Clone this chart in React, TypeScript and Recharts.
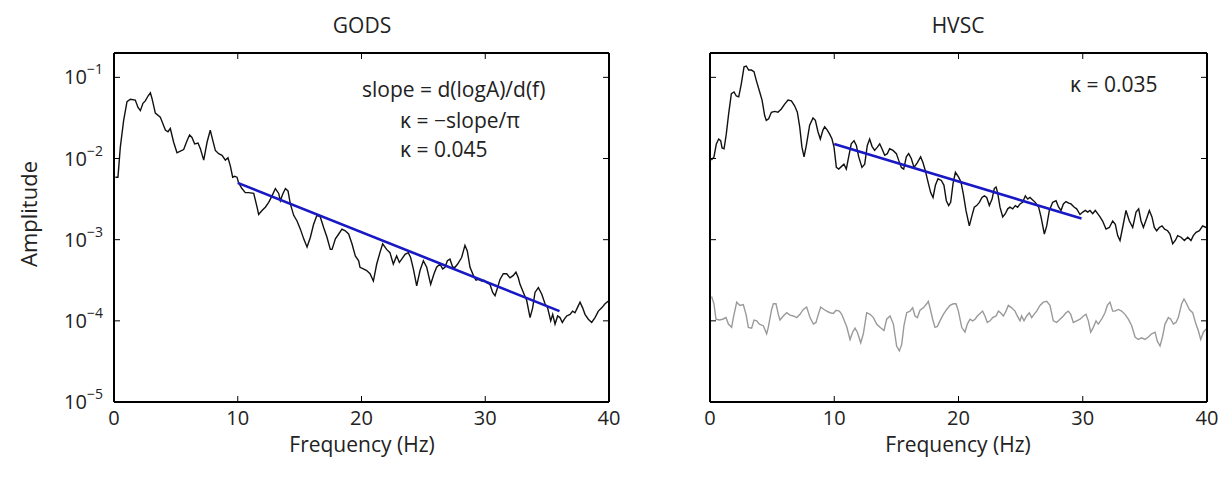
import React from 'react';
import { LineChart, Line, XAxis, YAxis } from 'recharts';

// [frequency Hz, log10 amplitude]
const GODS_SIGNAL: [number, number][] = [
  [0.11, -2.23], [0.32, -2.23], [0.51, -1.86], [0.78, -1.53], [1.05, -1.3], [1.32, -1.27],
  [1.72, -1.28], [1.94, -1.37], [2.13, -1.41], [2.34, -1.32], [2.53, -1.29], [2.75, -1.23],
  [2.94, -1.19], [3.07, -1.26], [3.34, -1.44], [3.74, -1.49], [4.15, -1.65], [4.36, -1.67],
  [4.55, -1.63], [4.82, -1.8], [5.09, -1.93], [5.36, -1.91], [5.63, -1.89], [5.9, -1.78],
  [6.11, -1.71], [6.3, -1.74], [6.52, -1.82], [6.79, -1.81], [6.98, -1.88], [7.25, -2.02],
  [7.52, -1.8], [7.78, -1.65], [7.92, -1.74], [8.19, -1.9], [8.46, -1.94], [8.73, -1.96],
  [9.0, -2.02], [9.21, -1.99], [9.4, -2.09], [9.59, -2.23], [9.75, -2.22], [9.94, -2.23],
  [10.07, -2.3], [10.34, -2.37], [10.61, -2.42], [10.88, -2.42], [11.29, -2.43], [11.56, -2.6],
  [11.69, -2.69], [11.96, -2.64], [12.23, -2.6], [12.5, -2.54], [12.77, -2.46], [13.04, -2.37],
  [13.31, -2.43], [13.44, -2.52], [13.63, -2.44], [13.85, -2.37], [14.06, -2.4], [14.25, -2.56],
  [14.52, -2.7], [14.79, -2.77], [15.06, -2.87], [15.33, -2.99], [15.6, -3.09], [15.87, -2.97],
  [16.13, -2.81], [16.4, -2.7], [16.67, -2.72], [16.94, -2.85], [17.21, -2.97], [17.48, -3.12],
  [17.62, -3.12], [17.89, -2.99], [18.16, -2.93], [18.42, -2.87], [18.69, -2.89], [18.96, -2.93],
  [19.23, -3.05], [19.5, -3.2], [19.77, -3.26], [19.88, -3.34], [20.15, -3.36], [20.42, -3.38],
  [20.69, -3.42], [20.96, -3.51], [21.23, -3.3], [21.49, -3.16], [21.71, -3.05], [22.03, -3.12],
  [22.3, -3.16], [22.57, -3.3], [22.84, -3.2], [23.06, -3.28], [23.25, -3.24], [23.52, -3.18],
  [23.78, -3.16], [23.97, -3.22], [24.19, -3.36], [24.46, -3.57], [24.73, -3.38], [25.0, -3.26],
  [25.27, -3.34], [25.59, -3.55], [25.86, -3.42], [26.07, -3.34], [26.34, -3.3], [26.56, -3.36],
  [26.75, -3.34], [26.94, -3.26], [27.15, -3.24], [27.37, -3.34], [27.56, -3.34], [27.77, -3.3],
  [28.09, -3.22], [28.36, -3.07], [28.55, -3.14], [28.77, -3.34], [29.04, -3.44], [29.25, -3.5],
  [29.44, -3.49], [29.71, -3.51], [29.9, -3.5], [30.11, -3.53], [30.38, -3.55], [30.6, -3.65],
  [30.79, -3.69], [31.0, -3.59], [31.19, -3.49], [31.46, -3.42], [31.73, -3.42], [32.0, -3.47],
  [32.27, -3.44], [32.48, -3.4], [32.67, -3.47], [32.81, -3.55], [33.08, -3.65], [33.35, -3.75],
  [33.62, -3.96], [33.83, -3.84], [34.02, -3.65], [34.29, -3.59], [34.56, -3.67], [34.83, -3.79],
  [35.04, -3.84], [35.29, -4.0], [35.45, -3.92], [35.64, -4.04], [35.85, -3.94], [36.04, -3.96],
  [36.23, -4.02], [36.39, -3.98], [36.58, -3.94], [36.85, -3.92], [37.06, -3.88], [37.25, -3.9],
  [37.44, -3.84], [37.66, -3.77], [37.87, -3.84], [38.06, -3.92], [38.33, -3.98], [38.6, -4.02],
  [38.87, -3.96], [39.14, -3.88], [39.41, -3.84], [39.68, -3.79], [40.0, -3.75],
];

const GODS_FIT: [number, number][] = [[10, -2.3], [36, -3.88]];

const HVSC_SIGNAL: [number, number][] = [
  [0.11, -2.02], [0.32, -1.98], [0.51, -1.82], [0.7, -1.76], [0.86, -1.78], [0.97, -1.87],
  [1.13, -1.88], [1.31, -1.7], [1.5, -1.45], [1.72, -1.2], [1.93, -1.18], [2.12, -1.23],
  [2.31, -1.24], [2.52, -1.08], [2.74, -0.87], [2.92, -0.86], [3.11, -0.91], [3.33, -0.91],
  [3.54, -0.93], [3.73, -1.04], [4.0, -1.18], [4.19, -1.28], [4.4, -1.47], [4.53, -1.53],
  [4.72, -1.51], [4.94, -1.43], [5.2, -1.42], [5.47, -1.43], [5.74, -1.39], [6.01, -1.33],
  [6.28, -1.28], [6.55, -1.29], [6.81, -1.35], [7.03, -1.43], [7.22, -1.61], [7.4, -1.86],
  [7.57, -1.98], [7.75, -1.84], [8.02, -1.59], [8.29, -1.5], [8.48, -1.53], [8.69, -1.67],
  [8.88, -1.76], [9.09, -1.65], [9.23, -1.61], [9.44, -1.65], [9.63, -1.7], [9.82, -1.76],
  [9.98, -1.86], [10.17, -2.11], [10.36, -2.13], [10.57, -2.1], [10.78, -2.07], [10.97, -2.13],
  [11.16, -1.98], [11.37, -1.82], [11.59, -1.78], [11.78, -1.84], [11.97, -1.98], [12.23, -2.11],
  [12.45, -2.07], [12.66, -1.84], [12.85, -1.76], [13.04, -1.85], [13.25, -1.9], [13.47, -1.86],
  [13.66, -1.82], [13.84, -1.88], [14.06, -1.96], [14.27, -1.94], [14.46, -1.88], [14.73, -1.9],
  [15.0, -1.94], [15.18, -2.02], [15.4, -2.11], [15.59, -2.13], [15.8, -1.98], [15.99, -1.94],
  [16.2, -2.0], [16.42, -2.11], [16.69, -2.05], [16.95, -1.98], [17.14, -2.05], [17.33, -2.15],
  [17.55, -2.29], [17.76, -2.42], [17.95, -2.48], [18.14, -2.33], [18.35, -2.25], [18.62, -2.27],
  [18.83, -2.33], [19.02, -2.52], [19.21, -2.58], [19.37, -2.54], [19.56, -2.31], [19.75, -2.17],
  [20.01, -2.23], [20.2, -2.29], [20.39, -2.44], [20.6, -2.64], [20.87, -2.83], [21.09, -2.7],
  [21.27, -2.6], [21.46, -2.58], [21.68, -2.54], [21.89, -2.48], [22.08, -2.46], [22.27, -2.48],
  [22.48, -2.58], [22.7, -2.5], [22.88, -2.37], [23.02, -2.35], [23.15, -2.42], [23.34, -2.6],
  [23.56, -2.72], [23.77, -2.68], [23.96, -2.62], [24.14, -2.6], [24.36, -2.62], [24.57, -2.58],
  [24.76, -2.6], [24.95, -2.56], [25.16, -2.54], [25.38, -2.46], [25.57, -2.5], [25.75, -2.48],
  [25.97, -2.51], [26.18, -2.54], [26.45, -2.6], [26.64, -2.72], [26.91, -2.93], [27.1, -2.83],
  [27.31, -2.64], [27.58, -2.54], [27.85, -2.52], [28.06, -2.6], [28.25, -2.64], [28.44, -2.56],
  [28.65, -2.53], [28.87, -2.55], [29.05, -2.56], [29.32, -2.6], [29.51, -2.62], [29.78, -2.69],
  [30.0, -2.66], [30.21, -2.64], [30.4, -2.66], [30.58, -2.64], [30.8, -2.68], [31.01, -2.64],
  [31.2, -2.68], [31.39, -2.72], [31.6, -2.77], [31.87, -2.87], [32.14, -2.85], [32.41, -2.77],
  [32.62, -2.81], [32.81, -2.95], [33.0, -3.01], [33.21, -2.85], [33.48, -2.64], [33.75, -2.77],
  [34.02, -2.85], [34.29, -2.66], [34.5, -2.62], [34.69, -2.77], [34.88, -2.85], [35.14, -2.74],
  [35.36, -2.64], [35.57, -2.72], [35.76, -2.85], [35.95, -2.89], [36.16, -2.85], [36.38, -2.83],
  [36.59, -2.87], [36.83, -2.89], [37.02, -2.93], [37.24, -3.05], [37.45, -3.01], [37.64, -2.95],
  [37.91, -2.97], [38.18, -3.01], [38.45, -2.97], [38.71, -3.01], [38.9, -2.95], [39.12, -2.91],
  [39.39, -2.89], [39.65, -2.83], [39.92, -2.85],
];

const HVSC_NOISE: [number, number][] = [
  [0.13, -3.7], [0.32, -3.79], [0.48, -3.98], [0.75, -3.99], [1.02, -3.98], [1.29, -3.96],
  [1.48, -4.04], [1.74, -4.08], [1.88, -3.96], [2.15, -3.77], [2.41, -3.81], [2.68, -3.8],
  [2.9, -3.92], [3.09, -4.08], [3.35, -4.09], [3.54, -3.99], [3.76, -4.0], [3.97, -4.04],
  [4.29, -4.06], [4.56, -4.16], [4.69, -4.08], [4.96, -3.86], [5.1, -3.79], [5.31, -3.79],
  [5.5, -3.92], [5.63, -3.99], [5.9, -3.94], [6.17, -3.9], [6.44, -3.93], [6.71, -3.94],
  [6.98, -3.96], [7.24, -3.92], [7.51, -3.86], [7.78, -3.83], [8.05, -3.96], [8.32, -4.04],
  [8.53, -4.02], [8.72, -3.92], [8.91, -3.83], [9.18, -3.86], [9.39, -3.88], [9.66, -3.9],
  [9.93, -3.91], [10.14, -3.87], [10.41, -3.88], [10.6, -3.92], [10.81, -4.0], [11.0, -4.07],
  [11.27, -4.23], [11.48, -4.14], [11.67, -4.09], [11.86, -4.14], [12.13, -4.27], [12.34, -4.16],
  [12.61, -3.9], [12.88, -3.92], [13.15, -3.96], [13.41, -4.04], [13.68, -4.08], [14.0, -4.12],
  [14.22, -3.98], [14.49, -3.94], [14.76, -4.04], [15.02, -4.31], [15.24, -4.37], [15.43, -4.29],
  [15.61, -4.06], [15.83, -3.9], [16.1, -3.88], [16.31, -3.84], [16.5, -3.94], [16.69, -3.96],
  [16.9, -3.87], [17.17, -3.84], [17.44, -3.79], [17.57, -3.76], [17.71, -3.84], [17.92, -3.98],
  [18.11, -4.08], [18.3, -4.07], [18.51, -4.0], [18.78, -3.92], [19.05, -3.86], [19.32, -3.81],
  [19.58, -3.79], [19.8, -3.79], [19.99, -3.88], [20.26, -4.08], [20.52, -4.14], [20.71, -4.04],
  [20.93, -3.98], [21.14, -4.0], [21.33, -3.98], [21.52, -3.94], [21.73, -3.91], [21.94, -3.88],
  [22.13, -3.94], [22.32, -4.02], [22.54, -4.0], [22.75, -3.96], [23.02, -3.94], [23.21, -3.88],
  [23.39, -3.9], [23.61, -3.94], [23.82, -3.88], [24.01, -3.81], [24.28, -3.84], [24.55, -3.88],
  [24.73, -3.94], [24.95, -4.0], [25.08, -3.94], [25.27, -4.0], [25.49, -3.94], [25.7, -3.9],
  [25.89, -3.96], [26.08, -3.92], [26.29, -3.88], [26.56, -3.81], [26.83, -3.77], [27.1, -3.76],
  [27.36, -3.81], [27.63, -4.0], [27.9, -4.02], [28.17, -3.98], [28.44, -3.94], [28.65, -3.9],
  [28.84, -3.88], [29.03, -3.92], [29.24, -4.02], [29.51, -4.0], [29.78, -3.98], [30.05, -3.94],
  [30.26, -3.92], [30.45, -4.0], [30.64, -4.14], [30.85, -4.08], [31.07, -4.0], [31.25, -4.04],
  [31.52, -3.98], [31.79, -3.9], [31.98, -3.81], [32.19, -3.77], [32.41, -3.88], [32.6, -3.88],
  [32.86, -3.86], [33.13, -3.88], [33.4, -3.92], [33.67, -3.98], [33.94, -4.06], [34.21, -4.2],
  [34.47, -4.23], [34.74, -4.21], [35.01, -4.23], [35.28, -4.2], [35.55, -4.16], [35.82, -4.14],
  [36.0, -4.25], [36.22, -4.31], [36.43, -4.19], [36.62, -4.04], [36.89, -3.96], [37.08, -3.98],
  [37.29, -4.04], [37.5, -4.02], [37.69, -3.96], [37.96, -3.79], [38.15, -3.73], [38.36, -3.79],
  [38.58, -3.86], [38.85, -3.9], [39.11, -4.04], [39.3, -4.12], [39.49, -4.23], [39.71, -4.14],
  [39.92, -4.1],
];

const HVSC_FIT: [number, number][] = [[10, -1.82], [29.9, -2.74]];

const X_TICKS = [0, 10, 20, 30, 40];
const Y_TICKS = [-5, -4, -3, -2, -1];
const Y_DOMAIN: [number, number] = [-5, -0.7];

const FONT = "'Open Sans', 'Noto Sans', sans-serif";
const TXT = '#222';

const toRows = (pts: [number, number][]) => pts.map(([f, a]) => ({ f, a }));

const BottomTick = (props: any) => {
  const { x, y, payload } = props;
  return (
    <g>
      <line x1={x} y1={y} x2={x} y2={y - 6} stroke="#000" strokeWidth={1} />
      <text x={x} y={y + 23} textAnchor="middle" fontSize={20} fill={TXT} fontFamily={FONT}>
        {payload.value}
      </text>
    </g>
  );
};

const TopTick = (props: any) => {
  const { x, y } = props;
  return <line x1={x} y1={y} x2={x} y2={y + 6} stroke="#000" strokeWidth={1} />;
};

const makeLeftTick = (showLabel: boolean) => (props: any) => {
  const { x, y, payload } = props;
  return (
    <g>
      <line x1={x} y1={y} x2={x + 6} y2={y} stroke="#000" strokeWidth={1} />
      {showLabel && (
        <text x={x - 11} y={y + 7} textAnchor="end" fill={TXT} fontFamily={FONT}>
          <tspan fontSize={20}>10</tspan>
          <tspan fontSize={14} dy={-10}>{'\u2212' + Math.abs(payload.value)}</tspan>
        </text>
      )}
    </g>
  );
};

const RightTick = (props: any) => {
  const { x, y } = props;
  return <line x1={x} y1={y} x2={x - 6} y2={y} stroke="#000" strokeWidth={1} />;
};

const axisLine = { stroke: '#000', strokeWidth: 2 };

interface PanelProps {
  width: number;
  left: number;
  right: number;
  showYLabels: boolean;
  signal: [number, number][];
  fit: [number, number][];
  noise?: [number, number][];
}

// axes need a non-zero size to render, so each gets 1px and the margins lose 1px
function Panel({ width, left, right, showYLabels, signal, fit, noise }: PanelProps) {
  return (
    <LineChart width={width} height={480} margin={{ top: 52, right: right - 1, bottom: 77, left: left - 1 }}>
      <XAxis
        xAxisId="b"
        type="number"
        dataKey="f"
        domain={[0, 40]}
        ticks={X_TICKS}
        height={1}
        tickSize={0}
        tickMargin={0}
        tickLine={false}
        axisLine={axisLine}
        tick={<BottomTick />}
        allowDataOverflow
      />
      <XAxis
        xAxisId="t"
        orientation="top"
        type="number"
        dataKey="f"
        domain={[0, 40]}
        ticks={X_TICKS}
        height={1}
        tickSize={0}
        tickMargin={0}
        tickLine={false}
        axisLine={axisLine}
        tick={<TopTick />}
        allowDataOverflow
      />
      <YAxis
        yAxisId="l"
        type="number"
        domain={Y_DOMAIN}
        ticks={Y_TICKS}
        width={1}
        tickSize={0}
        tickMargin={0}
        tickLine={false}
        axisLine={axisLine}
        tick={makeLeftTick(showYLabels)}
        allowDataOverflow
      />
      <YAxis
        yAxisId="r"
        orientation="right"
        type="number"
        domain={Y_DOMAIN}
        ticks={Y_TICKS}
        width={1}
        tickSize={0}
        tickMargin={0}
        tickLine={false}
        axisLine={axisLine}
        tick={<RightTick />}
        allowDataOverflow
      />
      {noise && (
        <Line
          xAxisId="b"
          yAxisId="l"
          data={toRows(noise)}
          dataKey="a"
          type="linear"
          stroke="#9a9a9a"
          strokeWidth={1.4}
          dot={false}
          isAnimationActive={false}
        />
      )}
      <Line
        xAxisId="b"
        yAxisId="l"
        data={toRows(signal)}
        dataKey="a"
        type="linear"
        stroke="#111"
        strokeWidth={1.4}
        dot={false}
        isAnimationActive={false}
      />
      <Line
        xAxisId="b"
        yAxisId="l"
        data={toRows(fit)}
        dataKey="a"
        type="linear"
        stroke="#1818c4"
        strokeWidth={2.6}
        dot={false}
        isAnimationActive={false}
      />
    </LineChart>
  );
}

const textStyle: React.CSSProperties = {
  position: 'absolute',
  fontFamily: FONT,
  color: TXT,
  whiteSpace: 'nowrap',
  lineHeight: 1,
};

export default function App() {
  return (
    <div style={{ position: 'absolute', left: 0, top: 0, width: 1230, height: 480, background: '#fff' }}>
      <div style={{ position: 'absolute', left: 0, top: 0 }}>
        <Panel width={620} left={114} right={11} showYLabels signal={GODS_SIGNAL} fit={GODS_FIT} />
      </div>
      <div style={{ position: 'absolute', left: 620, top: 0 }}>
        <Panel width={610} left={90} right={23} showYLabels={false} signal={HVSC_SIGNAL} fit={HVSC_FIT} noise={HVSC_NOISE} />
      </div>

      <div style={{ ...textStyle, left: 262, width: 200, top: 15, fontSize: 21, textAlign: 'center' }}>GODS</div>
      <div style={{ ...textStyle, left: 858, width: 200, top: 15, fontSize: 21, textAlign: 'center' }}>HVSC</div>

      <div style={{ ...textStyle, left: 262, width: 200, top: 434, fontSize: 21, textAlign: 'center' }}>Frequency (Hz)</div>
      <div style={{ ...textStyle, left: 858, width: 200, top: 434, fontSize: 21, textAlign: 'center' }}>Frequency (Hz)</div>

      <div
        style={{
          ...textStyle,
          left: 28,
          top: 214,
          fontSize: 22,
          transform: 'translate(-50%, -50%) rotate(-90deg)',
        }}
      >
        Amplitude
      </div>

      <div style={{ ...textStyle, left: 362, top: 79, fontSize: 21 }}>slope = d(logA)/d(f)</div>
      <div style={{ ...textStyle, left: 400, top: 110, fontSize: 21 }}>κ = −slope/π</div>
      <div style={{ ...textStyle, left: 400, top: 139, fontSize: 21 }}>κ = 0.045</div>
      <div style={{ ...textStyle, left: 1070, top: 74, fontSize: 21 }}>κ = 0.035</div>
    </div>
  );
}
